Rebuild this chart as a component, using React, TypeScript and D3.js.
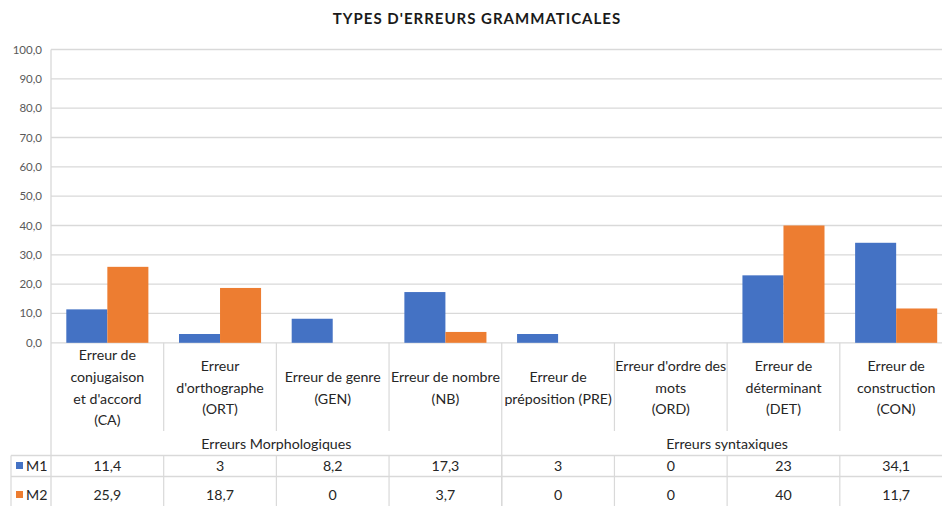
import React from "react";
import * as d3 from "d3";

const categories = ["CA", "ORT", "GEN", "NB", "PRE", "ORD", "DET", "CON"];
const categoryLabels: string[][] = [
  ["Erreur de", "conjugaison", "et d'accord", "(CA)"],
  ["Erreur", "d'orthographe", "(ORT)"],
  ["Erreur de genre", "(GEN)"],
  ["Erreur de nombre", "(NB)"],
  ["Erreur de", "préposition (PRE)"],
  ["Erreur d'ordre des", "mots", "(ORD)"],
  ["Erreur de", "déterminant", "(DET)"],
  ["Erreur de", "construction", "(CON)"],
];
const groups = ["Erreurs Morphologiques", "Erreurs syntaxiques"];
const groupSizes = [4, 4];
const seriesNames = ["M1", "M2"];
const m1Values = [11.4, 3, 8.2, 17.3, 3, 0, 23, 34.1];
const m2Values = [25.9, 18.7, 0, 3.7, 0, 0, 40, 11.7];
const m1Labels = ["11,4", "3", "8,2", "17,3", "3", "0", "23", "34,1"];
const m2Labels = ["25,9", "18,7", "0", "3,7", "0", "0", "40", "11,7"];
const yTicks = [0, 10, 20, 30, 40, 50, 60, 70, 80, 90, 100];
const title = "TYPES D'ERREURS GRAMMATICALES";

const COLORS = ["#4472C4", "#ED7D31"];
const FONT = "Lato, 'Open Sans', sans-serif";
const GRID = "#d9d9d9";
const FS = 14.2;

export default function App() {
  const W = 942, H = 506;
  const left = 51, right = 952.5;
  const top = 49.5, bottom = 342.8;
  const labelBottom = 431;
  const row1 = 455.5, row2 = 476.5, row3 = 506;
  const tableLeft = 11;

  const x = d3.scaleBand<string>().domain(categories).range([left, right]).paddingInner(0).paddingOuter(0);
  const bw = x.bandwidth();
  const xs = d3.scaleBand<string>().domain(seriesNames).range([0, bw]).paddingInner(0).paddingOuter(0.373);
  const y = d3.scaleLinear().domain([0, 100]).range([bottom, top]);
  const series = [m1Values, m2Values];
  const seriesLabels = [m1Labels, m2Labels];

  const groupStarts: number[] = [];
  let acc = 0;
  groupSizes.forEach((s) => { groupStarts.push(acc); acc += s; });

  const lineH = 21.6;
  const labelMid = (bottom + labelBottom) / 2 + 1;

  return (
    <svg width={W} height={H} style={{ position: "absolute", left: 0, top: 0, background: "#fff" }} fontFamily={FONT}>
      <rect x={0} y={0} width={W} height={H} fill="#fff" />
      <text x={477} y={23.5} textAnchor="middle" fontSize={15} fontWeight="bold" letterSpacing={1} fill="#1a1a1a">{title}</text>

      {yTicks.map((t) => (
        <g key={t}>
          <line x1={left} x2={right} y1={y(t)} y2={y(t)} stroke={GRID} strokeWidth={1.3} />
          <text x={42} y={y(t)} dy="0.35em" textAnchor="end" fontSize={11.5} fill="#595959">{d3.format(".1f")(t).replace(".", ",")}</text>
        </g>
      ))}
      <line x1={left} x2={left} y1={top} y2={row3} stroke={GRID} strokeWidth={1.3} />

      {categories.map((c, i) => (
        <g key={c} transform={`translate(${x(c)},0)`}>
          {seriesNames.map((s, j) => {
            const v = series[j][i];
            return v > 0 ? (
              <rect key={s} x={xs(s)} y={y(v)} width={xs.bandwidth()} height={y(0) - y(v)} fill={COLORS[j]} />
            ) : null;
          })}
        </g>
      ))}

      {categories.slice(1).map((c, i) => {
        const isGroupBoundary = groupStarts.includes(i + 1);
        return (
          <line key={c} x1={x(c)!} x2={x(c)!} y1={bottom} y2={isGroupBoundary ? row3 : labelBottom} stroke={GRID} strokeWidth={1.2} />
        );
      })}
      {categories.slice(1).map((c) => (
        <line key={"r" + c} x1={x(c)!} x2={x(c)!} y1={row1} y2={row3} stroke={GRID} strokeWidth={1.2} />
      ))}
      <line x1={tableLeft} x2={tableLeft} y1={row1} y2={row3} stroke={GRID} strokeWidth={1.2} />
      {[row1, row2].map((r) => (
        <line key={r} x1={tableLeft} x2={right} y1={r} y2={r} stroke={GRID} strokeWidth={1.3} />
      ))}

      {categories.map((c, i) => {
        const lines = categoryLabels[i];
        const cx = x(c)! + bw / 2;
        const start = labelMid - ((lines.length - 1) * lineH) / 2;
        return (
          <text key={"l" + c} textAnchor="middle" fontSize={FS} fill="#262626">
            {lines.map((ln, k) => (
              <tspan key={k} x={cx} y={start + k * lineH} dy="0.35em">{ln}</tspan>
            ))}
          </text>
        );
      })}

      {groups.map((g, gi) => {
        const s = groupStarts[gi];
        const e = s + groupSizes[gi] - 1;
        const cx = (x(categories[s])! + x(categories[e])! + bw) / 2;
        return (
          <text key={g} x={cx} y={444} dy="0.35em" textAnchor="middle" fontSize={FS} fill="#262626">{g}</text>
        );
      })}

      {seriesNames.map((s, j) => {
        const cy = j === 0 ? (row1 + row2) / 2 : 495;
        return (
          <g key={s}>
            <rect x={16} y={cy - 4} width={7} height={7} fill={COLORS[j]} />
            <text x={26} y={cy} dy="0.35em" fontSize={FS} fill="#262626">{s}</text>
            {categories.map((c, i) => (
              <text key={c} x={x(c)! + bw / 2} y={cy} dy="0.35em" textAnchor="middle" fontSize={FS} fill="#262626">
                {seriesLabels[j][i]}
              </text>
            ))}
          </g>
        );
      })}
    </svg>
  );
}
